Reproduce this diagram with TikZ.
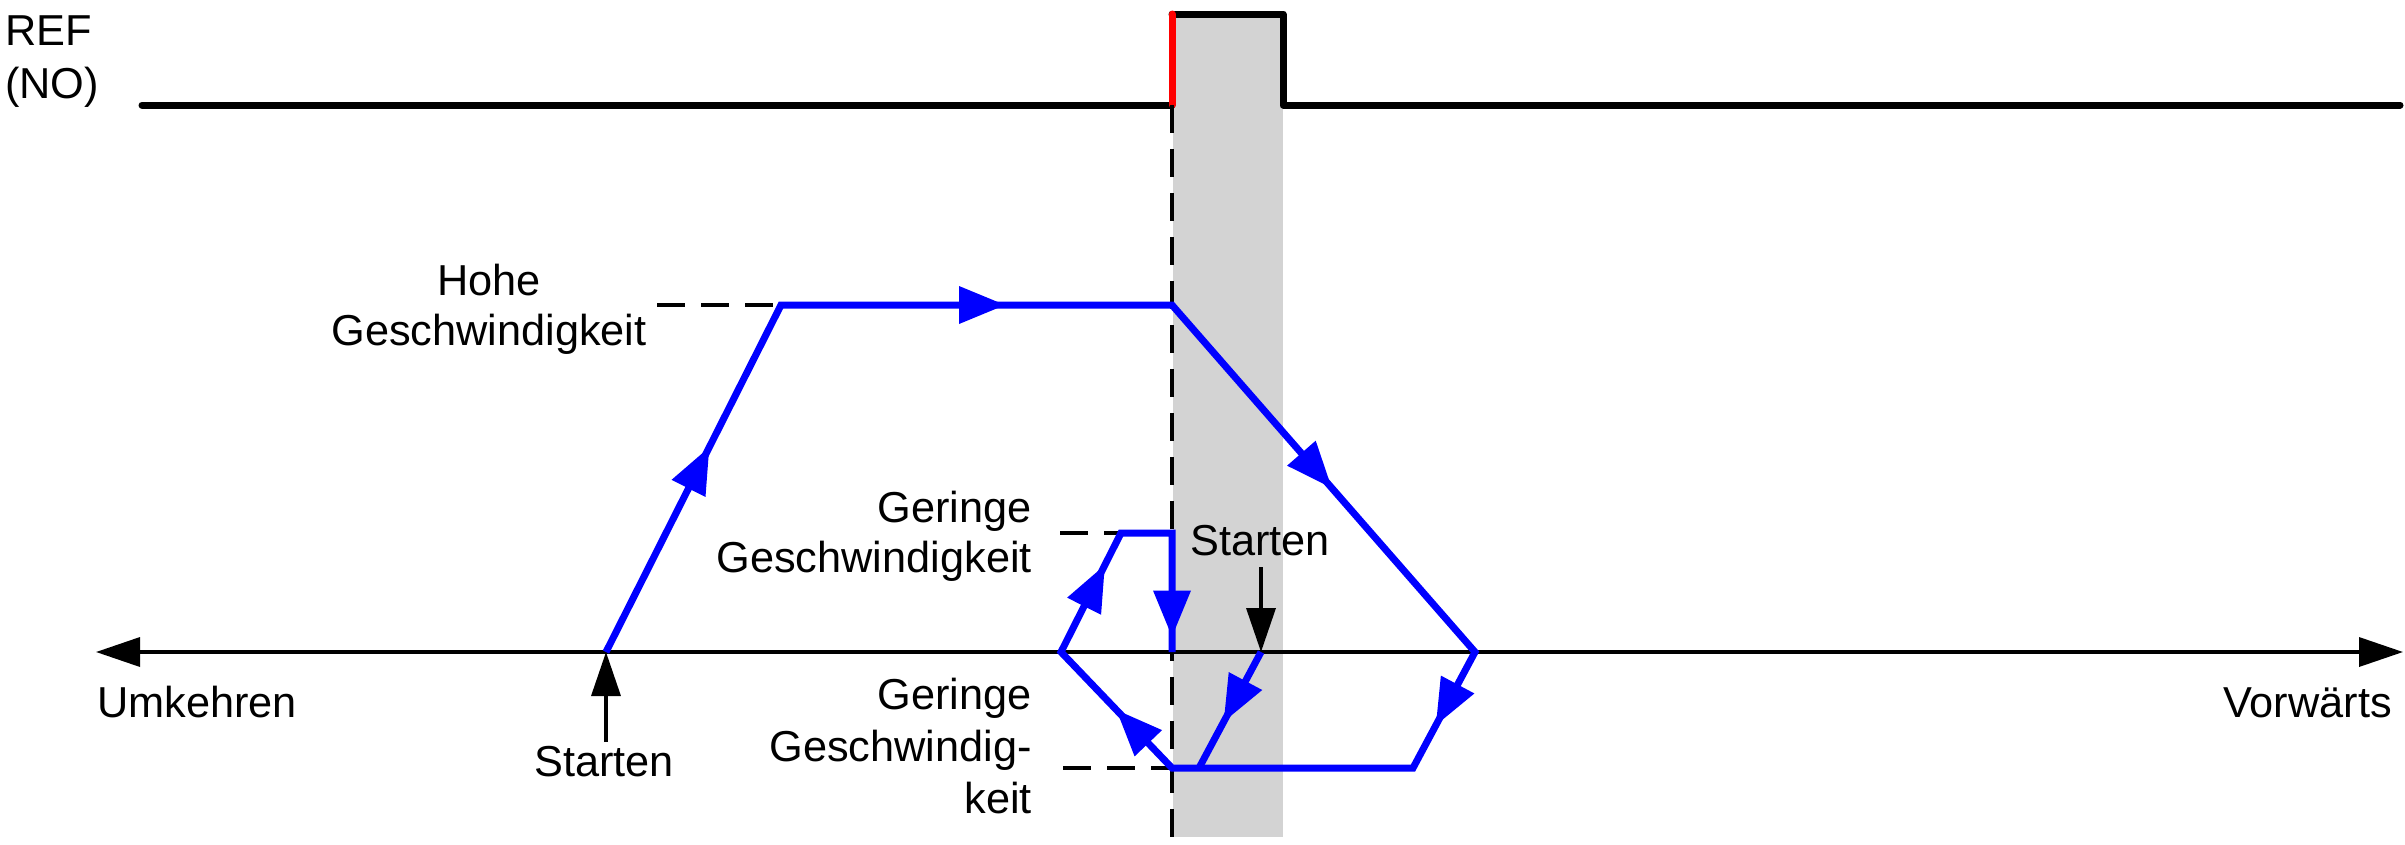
\documentclass[tikz,border=0pt]{standalone}
\usepackage{fontspec}
\setmainfont{Liberation Sans}
\usetikzlibrary{arrows.meta,decorations.markings}
\definecolor{zonegray}{HTML}{D3D3D3}
\begin{document}
\begin{tikzpicture}[x=1pt,y=-1pt,
  lbl/.style={inner sep=0pt, font=\fontsize{43.3}{51}\selectfont},
  refline/.style={line width=7pt, line cap=round, line join=round},
  axisline/.style={line width=3.5pt},
  guide/.style={line width=4pt, dash pattern=on 28pt off 16pt},
  speed/.style={draw=blue, line width=7pt, line join=miter},
  midarr/.style={postaction={decorate}, decoration={markings,
     mark=at position #1 with {\fill[blue] (0pt,0pt) -- (-46pt,19pt) -- (-46pt,-19pt) -- cycle;}}},
  blk/.style={-{Triangle[length=44pt,width=29pt]}, line width=3.5pt}]
\useasboundingbox (0,0) rectangle (2405,844);
% shaded zone
\fill[zonegray] (1173,14) rectangle (1283,837);
% coordinates
\coordinate (R0) at (142,105);
\coordinate (R1) at (1172,105);
\coordinate (R2) at (1172,14);
\coordinate (R3) at (1283,14);
\coordinate (R4) at (1283,105);
\coordinate (R5) at (2400,105);
\coordinate (AxL) at (96,652);
\coordinate (AxR) at (2403,652);
\coordinate (A0) at (606,652);
\coordinate (A1) at (781,305);
\coordinate (A2) at (1172,305);
\coordinate (A3) at (1475,652);
\coordinate (A4) at (1413,768);
\coordinate (A5) at (1172,768);
\coordinate (A6) at (1061,652);
\coordinate (A7) at (1121,533);
\coordinate (A8) at (1172,533);
\coordinate (A9) at (1172,652);
\coordinate (S0) at (1261,652);
\coordinate (S1) at (1199,768);
\coordinate (ST) at (1261,567);
\coordinate (SB) at (606,742);
\coordinate (V0) at (1172,105);
\coordinate (V1) at (1172,844);
\coordinate (DH) at (657,305);
\coordinate (DL) at (1060,533);
\coordinate (DB) at (1063,768);
% REF signal
\draw[refline] (R0) -- (R1);
\draw[refline] (R2) -- (R3) -- (R4) -- (R5);
\draw[refline, red] (R1) -- (R2);
% guides
\draw[guide] (V0) -- (V1);
\draw[guide] (DH) -- (A1);
\draw[guide] (DL) -- (A7);
\draw[guide] (DB) -- (A5);
% axis
\draw[axisline, {Triangle[length=44pt,width=29pt]}-{Triangle[length=44pt,width=29pt]}] (AxL) -- (AxR);
% speed profiles
\draw[speed] (A0) -- (A1) -- (A2) -- (A3) -- (A4) -- (A5) -- (A6) -- (A7) -- (A8) -- (A9);
\draw[speed] (S0) -- (S1);
\path[midarr=0.59] (A0) -- (A1);
\path[midarr=0.573] (A1) -- (A2);
\path[midarr=0.527] (A2) -- (A3);
\path[midarr=0.63] (A3) -- (A4);
\path[midarr=0.5] (A5) -- (A6);
\path[midarr=0.73] (A6) -- (A7);
\path[midarr=0.87] (A8) -- (A9);
\path[midarr=0.6] (S0) -- (S1);
% start arrows
\draw[blk] (SB) -- (A0);
\draw[blk] (ST) -- (S0);
% labels
\node[lbl, anchor=north west, align=left, font=\fontsize{43.3}{53}\selectfont] (ref) at (5,16) {REF\\(NO)};
\node[lbl, anchor=north, align=center, font=\fontsize{43.3}{50}\selectfont] (hohe) at (489,264) {Hohe\\Geschwindigkeit};
\node[lbl, anchor=north east, align=right, font=\fontsize{43.3}{50}\selectfont] (ger1) at (1032,491) {Geringe\\Geschwindigkeit};
\node[lbl, anchor=north east, align=right, font=\fontsize{43.3}{52}\selectfont] (ger2) at (1032,678) {Geringe\\Geschwindig-\\keit};
\node[lbl, anchor=base west] (umk) at (97,717) {Umkehren};
\node[lbl, anchor=base east] (vor) at (2392,717) {Vorwärts};
\node[lbl, anchor=base] (st1) at (1260,555) {Starten};
\node[lbl, anchor=base] (st2) at (604,776) {Starten};
\end{tikzpicture}
\end{document}
